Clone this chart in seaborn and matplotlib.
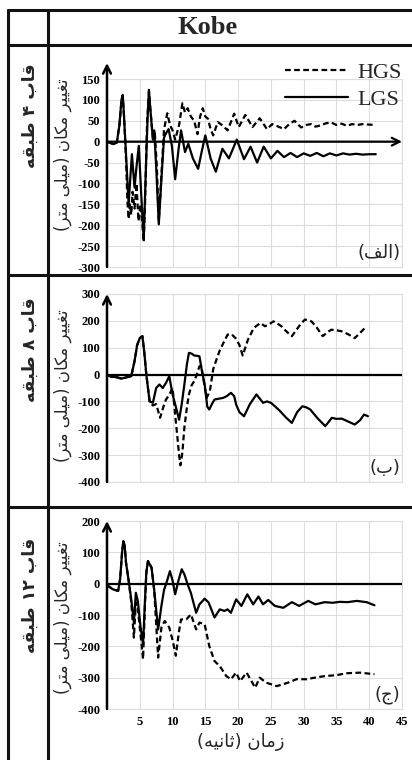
import numpy as np
import pandas as pd
import matplotlib
matplotlib.use("Agg")
import matplotlib.pyplot as plt
from matplotlib.lines import Line2D
import seaborn as sns

# ---------------- data ----------------
title_text = "Kobe"
row_labels = ["قاب ۴ طبقه", "قاب ۸ طبقه", "قاب ۱۲ طبقه"]
panel_tags = ["(الف)", "(ب)", "(ج)"]
ylabel_text = "تغییر مکان (میلی متر)"
xlabel_text = "زمان (ثانیه)"
series_names = ["HGS", "LGS"]

y_ticks_1 = [150, 100, 50, 0, -50, -100, -150, -200, -250, -300]
y_ticks_2 = [300, 200, 100, 0, -100, -200, -300, -400]
y_ticks_3 = [200, 100, 0, -100, -200, -300, -400]
x_ticks = [5, 10, 15, 20, 25, 30, 35, 40, 45]

# panel 1 (4-storey)
t1_lgs = [0, 0.5, 1.0, 1.5, 1.9, 2.2, 2.4, 2.6, 2.9, 3.3, 3.5, 3.8, 4.2, 4.5, 4.85, 5.2, 5.6, 5.9, 6.2, 6.4,
          6.6, 7.0, 7.2, 7.5, 7.9, 8.3, 8.7, 9.0, 9.4, 9.9, 10.4, 10.9, 11.3, 11.9, 12.4, 13.1, 13.9, 14.5,
          15.0, 15.8, 16.6, 17.6, 18.6, 19.8, 20.9, 21.9, 22.9, 23.9, 25.0, 26.0, 27.0, 28.0, 29.0, 30.0,
          31.0, 32.0, 33.0, 34.0, 35.0, 36.0, 37.0, 38.0, 39.0, 40.0, 41.0]
d1_lgs = [0, -3, -6, -2, 40, 100, 112, 60, -30, -150, -100, -30, -110, -60, -10, -120, -235, -80, 60, 124,
          80, 5, 27, -60, -198, -90, 10, 20, 30, -10, -90, -20, 27, -25, -5, -40, -65, -20,
          15, -40, -72, -17, -40, 5, -42, -12, -50, -12, -40, -22, -37, -27, -37, -28,
          -34, -27, -35, -28, -33, -28, -31, -29, -31, -30, -30]
t1_hgs = [0, 0.5, 1.0, 1.5, 1.9, 2.2, 2.4, 2.6, 2.9, 3.1, 3.3, 3.5, 3.7, 3.9, 4.2, 4.5, 4.8, 5.1, 5.4, 5.6,
          5.8, 6.1, 6.4, 6.6, 7.0, 7.3, 7.6, 7.9, 8.3, 8.7, 9.2, 9.6, 10.0, 10.4, 11.0, 11.5, 11.9, 12.3,
          12.8, 13.3, 13.8, 14.2, 14.6, 15.0, 15.4, 15.8, 16.2, 16.9, 17.6, 18.4, 19.4, 20.1, 21.1, 22.2,
          23.3, 24.4, 25.2, 26.0, 27.0, 27.8, 28.6, 29.6, 30.4, 31.1, 31.8, 32.6, 33.4, 34.2, 35.0, 35.8,
          36.6, 37.4, 38.2, 39.0, 39.8, 41.0]
d1_hgs = [0, -3, -6, -2, 40, 95, 110, 60, -40, -140, -185, -150, -175, -120, -160, -100, -190, -150, -200, -240,
          -150, 40, 120, 80, 10, 20, -60, -190, -80, 30, 68, 40, 27, 5, 40, 92, 70, 80,
          60, 50, 18, 60, 80, 60, 55, 30, 15, 47, 39, 27, 67, 35, 64, 35,
          56, 30, 42, 37, 30, 42, 50, 34, 40, 42, 36, 39, 44, 46, 40, 43,
          38, 42, 40, 42, 41, 40]

# panel 2 (8-storey)
t2_lgs = [0, 0.7, 1.5, 2.2, 3.0, 3.7, 4.2, 4.6, 5.0, 5.4, 5.7, 6.0, 6.5, 7.0, 7.5, 8.0, 8.5, 9.0, 9.5, 10.0,
          10.5, 11.0, 11.4, 11.8, 12.2, 12.5, 12.9, 13.3, 13.7, 14.1, 14.5, 14.9, 15.3, 15.6, 16.0, 16.4,
          17.0, 17.7, 18.3, 18.9, 19.4, 19.7, 20.2, 20.9, 21.8, 22.8, 23.8, 24.4, 25.0, 25.7, 26.4, 27.3,
          28.2, 29.0, 29.8, 30.4, 31.0, 32.2, 33.3, 34.3, 35.0, 35.8, 36.8, 37.8, 38.6, 39.2, 39.8]
d2_lgs = [-2, -8, -10, -15, -10, -6, 50, 110, 136, 143, 80, 0, -100, -105, -50, -37, -50, -31, -6, -74,
          -120, -168, -110, -37, 40, 81, 78, 71, 70, 68, 10, -37, -120, -130, -110, -93,
          -90, -87, -80, -68, -80, -112, -140, -155, -110, -74, -105, -100, -105, -120, -136, -160,
          -180, -140, -118, -122, -130, -165, -192, -161, -165, -164, -175, -186, -170, -149, -155]
t2_hgs = [0, 0.7, 1.5, 2.2, 3.0, 3.7, 4.2, 4.6, 5.0, 5.4, 5.7, 6.0, 6.5, 7.0, 7.5, 8.1, 8.6, 9.0, 9.5, 10.0,
          10.4, 10.7, 11.0, 11.2, 11.5, 11.8, 12.2, 12.5, 12.9, 13.3, 13.7, 14.1, 14.4, 14.8, 15.2, 15.7,
          16.2, 16.7, 17.2, 17.8, 18.4, 19.0, 19.6, 20.2, 20.7, 21.5, 22.4, 23.4, 24.1, 24.6, 25.4, 26.0,
          26.6, 27.4, 28.2, 29.0, 29.6, 30.2, 31.2, 32.0, 32.9, 33.5, 34.2, 35.0, 35.8, 36.8, 37.8, 38.6, 39.6]
d2_hgs = [-2, -8, -10, -15, -10, -6, 50, 110, 136, 143, 80, 0, -100, -115, -110, -161, -120, -93, -75, -50,
          -150, -223, -300, -338, -290, -198, -120, -74, -40, -25, 0, 31, 30, -30, -87, -60,
          20, 56, 90, 120, 149, 150, 136, 110, 71, 130, 174, 192, 180, 185, 198, 190,
          180, 160, 143, 170, 190, 205, 198, 175, 143, 155, 167, 165, 161, 150, 136, 155, 180]

# panel 3 (12-storey)
t3_lgs = [0, 0.9, 1.7, 2.0, 2.3, 2.5, 2.7, 2.9, 3.35, 3.7, 4.1, 4.4, 4.7, 5.1, 5.5, 5.8, 6.0, 6.25, 6.8, 7.2,
          7.8, 8.3, 8.7, 9.0, 9.6, 10.0, 10.4, 10.9, 11.4, 11.8, 12.3, 12.8, 13.6, 14.1, 14.9, 15.5, 16.4,
          17.2, 17.9, 18.4, 18.9, 19.7, 20.5, 21.4, 22.3, 23.1, 23.8, 24.6, 25.6, 26.9, 28.2, 29.3, 30.7,
          31.8, 33.2, 34.4, 35.5, 36.7, 38.1, 39.6, 40.8]
d3_lgs = [-5, -18, -23, 14, 100, 136, 120, 67, 3, -50, -124, -29, -55, -135, -194, -50, 35, 72, 51, -20,
          -146, -71, -20, -2, 40, 10, -34, 10, 46, 30, -2, -30, -93, -66, -48, -60, -108,
          -82, -87, -82, -93, -50, -71, -34, -66, -41, -66, -52, -71, -77, -59, -71, -55,
          -66, -59, -61, -58, -59, -55, -59, -69]
t3_hgs = [0, 0.9, 1.7, 2.0, 2.3, 2.5, 2.7, 2.9, 3.35, 3.7, 4.1, 4.4, 4.7, 5.1, 5.5, 5.8, 6.0, 6.25, 6.8, 7.2,
          7.8, 8.3, 8.8, 9.5, 10.0, 10.5, 11.0, 11.3, 12.1, 12.8, 13.6, 14.1, 14.9, 15.6, 16.4, 17.2,
          18.2, 18.9, 19.7, 20.3, 21.3, 22.6, 23.3, 24.3, 25.9, 27.6, 28.9, 30.4, 31.7, 33.2, 35.0,
          36.5, 38.6, 40.8]
d3_hgs = [-5, -18, -23, 14, 100, 136, 120, 67, 3, -60, -172, -60, -80, -160, -241, -60, 35, 72, 51, -20,
          -236, -140, -119, -140, -180, -230, -150, -114, -114, -98, -146, -124, -130, -199, -247, -263,
          -295, -305, -284, -311, -284, -332, -300, -316, -327, -316, -305, -305, -300, -295, -292,
          -286, -284, -289]

panels = [
    (t1_hgs, d1_hgs, t1_lgs, d1_lgs, y_ticks_1),
    (t2_hgs, d2_hgs, t2_lgs, d2_lgs, y_ticks_2),
    (t3_hgs, d3_hgs, t3_lgs, d3_lgs, y_ticks_3),
]

# ---------------- simple Persian shaping (matplotlib has no complex text layout) ----------------
FORMS = {
    'ا': ('\uFE8D', '\uFE8E', None, None),
    'ب': ('\uFE8F', '\uFE90', '\uFE91', '\uFE92'),
    'ت': ('\uFE95', '\uFE96', '\uFE97', '\uFE98'),
    'ث': ('\uFE99', '\uFE9A', '\uFE9B', '\uFE9C'),
    'ج': ('\uFE9D', '\uFE9E', '\uFE9F', '\uFEA0'),
    'ر': ('\uFEAD', '\uFEAE', None, None),
    'ز': ('\uFEAF', '\uFEB0', None, None),
    'ط': ('\uFEC1', '\uFEC2', '\uFEC3', '\uFEC4'),
    'غ': ('\uFECD', '\uFECE', '\uFECF', '\uFED0'),
    'ف': ('\uFED1', '\uFED2', '\uFED3', '\uFED4'),
    'ق': ('\uFED5', '\uFED6', '\uFED7', '\uFED8'),
    'ل': ('\uFEDD', '\uFEDE', '\uFEDF', '\uFEE0'),
    'م': ('\uFEE1', '\uFEE2', '\uFEE3', '\uFEE4'),
    'ن': ('\uFEE5', '\uFEE6', '\uFEE7', '\uFEE8'),
    'ه': ('\uFEE9', '\uFEEA', '\uFEEB', '\uFEEC'),
    'ی': ('\uFBFC', '\uFBFD', '\uFBFE', '\uFBFF'),
    'ک': ('\uFB8E', '\uFB8F', '\uFB90', '\uFB91'),
}
MIRROR = {'(': ')', ')': '('}


def shape(s):
    out = []
    for i, c in enumerate(s):
        if c not in FORMS:
            out.append(c)
            continue
        prev = s[i - 1] if i > 0 else None
        nxt = s[i + 1] if i + 1 < len(s) else None
        jp = prev in FORMS and FORMS[prev][2] is not None
        jn = nxt in FORMS and FORMS[c][2] is not None
        iso, fin, ini, med = FORMS[c]
        out.append(med if (jp and jn) else fin if jp else ini if jn else iso)
    runs = []
    for ch in out:
        d = ch.isdigit()
        if runs and runs[-1][0] == d:
            runs[-1][1].append(ch)
        else:
            runs.append([d, [ch]])
    vis = []
    for d, chars in reversed(runs):
        if d:
            vis.extend(chars)
        else:
            vis.extend(MIRROR.get(c, c) for c in reversed(chars))
    return ''.join(vis)


# ---------------- figure ----------------
sns.set_theme(style="white")
plt.rcParams['axes.unicode_minus'] = False
plt.rcParams['font.family'] = ['DejaVu Sans']

W, H = 412, 760
fig = plt.figure(figsize=(W / 100, H / 100), dpi=100)
fig.patch.set_facecolor('white')

def fx(px):
    return px / W

def fy(py):
    return 1 - py / H

# table lines
lw_tab = 2.2
tab = dict(color='#111111', lw=lw_tab, transform=fig.transFigure, solid_capstyle='butt')
fig.add_artist(Line2D([fx(7), fx(412)], [fy(10), fy(10)], **tab))
fig.add_artist(Line2D([fx(7), fx(412)], [fy(45), fy(45)], **tab))
fig.add_artist(Line2D([fx(7), fx(412)], [fy(275), fy(275)], **tab))
fig.add_artist(Line2D([fx(7), fx(412)], [fy(507), fy(507)], **tab))
fig.add_artist(Line2D([fx(8), fx(8)], [fy(9), fy(760)], **tab))
fig.add_artist(Line2D([fx(48), fx(48)], [fy(9), fy(760)], **tab))

fig.text(fx(208), fy(28), title_text, ha='center', va='center', fontsize=19,
         fontweight='bold', family='Liberation Serif')

# axes geometry (px): top, bottom
ax_px = [(79, 267), (294, 482), (521, 709)]
row_label_top = [63, 297, 538]
ylab_center = [155, 386, 618]
arrow_ext = [0.085, 0.0, 0.0]

for i, ((th, dh, tl, dl, yt), (top, bot)) in enumerate(zip(panels, ax_px)):
    ax = fig.add_axes([fx(107), fy(bot), fx(402) - fx(107), (bot - top) / H])
    df = pd.concat([
        pd.DataFrame({'t': th, 'd': dh, 'series': 'HGS'}),
        pd.DataFrame({'t': tl, 'd': dl, 'series': 'LGS'}),
    ], ignore_index=True)
    sns.lineplot(data=df, x='t', y='d', style='series', style_order=series_names,
                 dashes={'HGS': (2.6, 1.5), 'LGS': ''}, color='black', lw=1.6,
                 estimator=None, ax=ax, legend=(i == 0), zorder=4)
    ax.set_xlim(0, 45)
    ax.set_ylim(min(yt), max(yt))
    ax.set_yticks(yt)
    ax.set_yticklabels([str(v) for v in yt], fontsize=9, family='Liberation Serif', fontweight='bold')
    ax.set_xticks(x_ticks)
    if i == 2:
        ax.set_xticklabels([str(v) for v in x_ticks], fontsize=9, family='Liberation Serif',
                           fontweight='bold')
    else:
        ax.set_xticklabels([])
    ax.set_xlabel('')
    ax.set_ylabel('')
    ax.tick_params(length=0, pad=5, colors='black')
    ax.grid(True, color='#dddddd', lw=0.8)
    for s in ax.spines.values():
        s.set_color('#dddddd')
        s.set_linewidth(0.8)
    ax.spines['left'].set_visible(False)
    # vertical axis with arrow
    ax.annotate('', xy=(0, 1 + arrow_ext[i]), xycoords='axes fraction', xytext=(0, 0),
                textcoords='axes fraction',
                arrowprops=dict(arrowstyle='->', lw=1.8, color='black', mutation_scale=14,
                                shrinkA=0, shrinkB=0), annotation_clip=False, zorder=6)
    if i == 0:
        ax.annotate('', xy=(1, 0), xycoords=('axes fraction', 'data'), xytext=(0, 0),
                    textcoords=('axes fraction', 'data'),
                    arrowprops=dict(arrowstyle='->', lw=1.6, color='black', mutation_scale=14,
                                    shrinkA=0, shrinkB=0), annotation_clip=False, zorder=5)
        sns.move_legend(ax, loc='upper right', bbox_to_anchor=(1.0, 1.09), title=None,
                        frameon=False, handlelength=2.8, handletextpad=0.45,
                        labelspacing=0.3, borderaxespad=0, borderpad=0,
                        prop={'family': 'Liberation Serif', 'size': 16})
    else:
        ax.axhline(0, color='black', lw=1.6, zorder=5)
    ax.text(0.995, 0.075, shape(panel_tags[i]), transform=ax.transAxes, ha='right',
            va='center', fontsize=13, family='DejaVu Sans')
    fig.text(fx(63), fy(ylab_center[i]), shape(ylabel_text), rotation=90, ha='center',
             va='center', fontsize=12, family='DejaVu Sans')
    fig.text(fx(30), fy(row_label_top[i]), shape(row_labels[i]), rotation=90, ha='center',
             va='top', fontsize=12.5, fontweight='bold', family='DejaVu Sans')

fig.text(fx(241), fy(742), shape(xlabel_text), ha='center', va='center', fontsize=13,
         family='DejaVu Sans')

fig.savefig('out.png', dpi=100, facecolor='white')
